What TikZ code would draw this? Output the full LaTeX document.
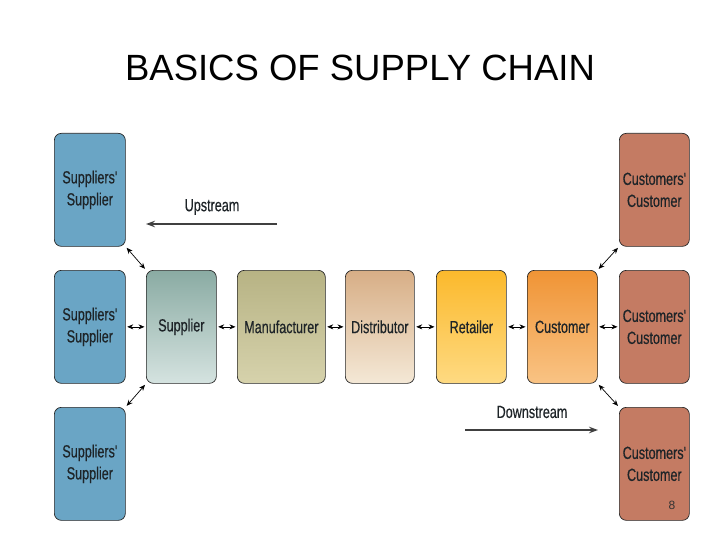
\documentclass[tikz,border=0pt]{standalone}
\usepackage{fontspec}
\setmainfont{Liberation Sans}
\newfontfamily\narrowfont[FakeStretch=0.72,FakeBold=0.4]{Liberation Sans}
\usetikzlibrary{positioning,arrows.meta}

\definecolor{suppblue}{HTML}{6AA5C5}
\definecolor{custred}{HTML}{C47B63}
\definecolor{textdark}{HTML}{1E2428}
\definecolor{supptop}{HTML}{8AABA3}
\definecolor{suppbot}{HTML}{D5E3E0}
\definecolor{manutop}{HTML}{B7B384}
\definecolor{manubot}{HTML}{D6D2AC}
\definecolor{disttop}{HTML}{D7AE86}
\definecolor{distbot}{HTML}{F4E8D6}
\definecolor{retltop}{HTML}{FBB92C}
\definecolor{retlbot}{HTML}{FEDA82}
\definecolor{custtop}{HTML}{F09435}
\definecolor{custbot}{HTML}{F9C384}

\tikzset{
  chainbox/.style={draw=black!85, line width=0.7pt, rounded corners=7pt,
    minimum height=113pt, minimum width=70pt, inner sep=0pt, align=center,
    text=textdark, font=\narrowfont\fontsize{17.5}{22}\selectfont},
  outerleft/.style={chainbox, fill=suppblue, minimum width=71pt},
  outerright/.style={chainbox, fill=custred, minimum width=70pt},
  link/.style={{Stealth[length=6pt,width=5pt]}-{Stealth[length=6pt,width=5pt]},
    line width=0.7pt, shorten <=1.5pt, shorten >=1.5pt},
  flow/.style={-{Stealth[length=9pt,width=6.5pt]}, line width=1.3pt, draw=black!75},
  flowtext/.style={text=textdark, font=\narrowfont\fontsize{17.5}{20}\selectfont}
}

\begin{document}
\begin{tikzpicture}[x=1pt, y=-1pt, node distance=23.3pt and 20.3pt]
    \useasboundingbox (0,0) rectangle (720,540);

    \node[font=\fontsize{36.5}{40}\selectfont] (Title) at (360,68) {BASICS OF SUPPLY CHAIN};

    % upstream side
    \node[outerleft, anchor=north west] (SuppTop) at (54,133) {Suppliers'\\Supplier};
    \node[outerleft, below=of SuppTop] (SuppMid) {Suppliers'\\Supplier};
    \node[outerleft, below=of SuppMid] (SuppBot) {Suppliers'\\Supplier};

    % main chain
    \node[chainbox, right=of SuppMid, top color=supptop, bottom color=suppbot] (Supplier) {Supplier};
    \node[chainbox, right=of Supplier, minimum width=88pt, top color=manutop, bottom color=manubot] (Manufacturer) {Manufacturer};
    \node[chainbox, right=19.3pt of Manufacturer, minimum width=69pt, top color=disttop, bottom color=distbot] (Distributor) {Distributor};
    \node[chainbox, right=21.3pt of Distributor, top color=retltop, bottom color=retlbot] (Retailer) {Retailer};
    \node[chainbox, right=of Retailer, top color=custtop, bottom color=custbot] (Customer) {Customer};

    % downstream side
    \node[outerright, right=21.3pt of Customer] (CustMid) {Customers'\\Customer};
    \node[outerright, above=of CustMid] (CustTop) {Customers'\\Customer};
    \node[outerright, below=of CustMid] (CustBot) {Customers'\\Customer};

    \draw[link] (SuppMid) -- (Supplier);
    \draw[link] (Supplier) -- (Manufacturer);
    \draw[link] (Manufacturer) -- (Distributor);
    \draw[link] (Distributor) -- (Retailer);
    \draw[link] (Retailer) -- (Customer);
    \draw[link] (Customer) -- (CustMid);
    \draw[link] (SuppTop.south east) -- (Supplier.north west);
    \draw[link] (SuppBot.north east) -- (Supplier.south west);
    \draw[link] (Customer.north east) -- (CustTop.south west);
    \draw[link] (Customer.south east) -- (CustBot.north west);

    % flow directions
    \node[flowtext] (UpText) at (212,207) {Upstream};
    \coordinate (UpStart) at (277,224);
    \coordinate (UpEnd) at (146,224);
    \draw[flow] (UpStart) -- (UpEnd);

    \node[flowtext] (DownText) at (532,412) {Downstream};
    \coordinate (DownStart) at (465,430);
    \coordinate (DownEnd) at (598,430);
    \draw[flow] (DownStart) -- (DownEnd);

    \node[font=\fontsize{12}{14}\selectfont, text=black!80] (PageNum) at (672,505) {8};
\end{tikzpicture}
\end{document}
